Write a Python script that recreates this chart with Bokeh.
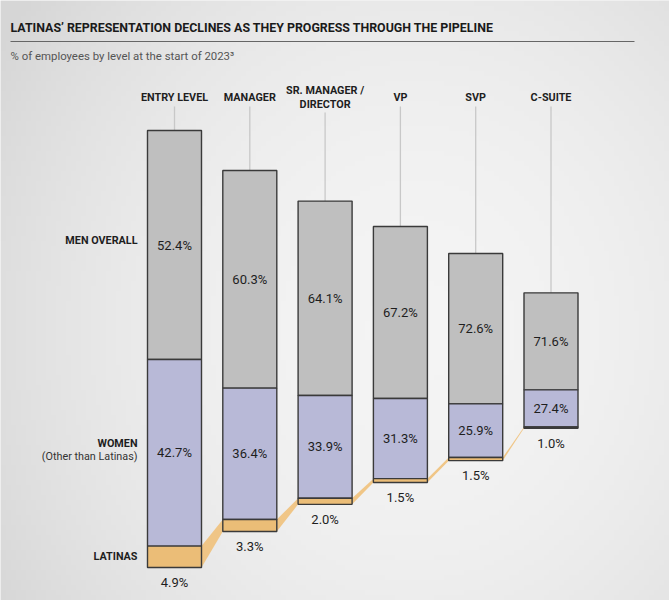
from bokeh.plotting import figure
from bokeh.models import Range1d
from bokeh.core.properties import value
from bokeh.embed import file_html
from bokeh.resources import INLINE
import numpy as np

# ---------------- data ----------------
levels = ["ENTRY LEVEL", "MANAGER", "SR. MANAGER /|DIRECTOR", "VP", "SVP", "C-SUITE"]
men = [52.4, 60.3, 64.1, 67.2, 72.6, 71.6]
women = [42.7, 36.4, 33.9, 31.3, 25.9, 27.4]
latinas = [4.9, 3.3, 2.0, 1.5, 1.5, 1.0]
level_size = [100.0, 82.6, 69.4, 58.6, 47.4, 31.0]   # relative bar height (entry level = 100)
level_base = [7.55, 15.8, 22.0, 27.0, 32.0, 39.4]    # bar baseline in the same units
title = "LATINAS\u2019 REPRESENTATION DECLINES AS THEY PROGRESS THROUGH THE PIPELINE"
subtitle = "% of employees by level at the start of 2023\u00b3"

# ---------------- layout helpers ----------------
W, H = 669, 600
XPX = 75.3          # pixels per level step
X0 = -174.0 / XPX   # left edge of the canvas in x units
YPX = 4.37          # pixels per size unit
BARW = 54.0 / XPX

def sx(px):
    return X0 + px / XPX

def sy(py):
    return (H - py) / YPX

p = figure(width=W, height=H, output_backend="svg", toolbar_location=None,
           x_range=Range1d(X0, X0 + W / XPX), y_range=Range1d(0, H / YPX),
           min_border=0)
p.axis.visible = False
p.grid.visible = False
p.outline_line_color = None
p.background_fill_color = "#ececec"
p.border_fill_color = "#ececec"

# background gradient
nx, ny = 134, 120
gx, gy = np.meshgrid(np.linspace(0, 1, nx), np.linspace(0, 1, ny))
d = np.sqrt(((gx - 0.62) / 0.8) ** 2 + ((gy - 0.45) / 1.0) ** 2)
lum = np.clip(0.958 - 0.14 * d ** 2, 0.84, 0.96)
img = np.zeros((ny, nx), dtype=np.uint32)
v = img.view(dtype=np.uint8).reshape((ny, nx, 4))
c = (lum * 255).astype(np.uint8)
v[:, :, 0] = c
v[:, :, 1] = c
v[:, :, 2] = c
v[:, :, 3] = 255
p.image_rgba(image=[img], x=X0, y=0, dw=W / XPX, dh=H / YPX)

FONT = value("Roboto")
DARK = "#1e1e1e"
EDGE = "#3a3a3a"
C_MEN = "#bfbfbf"
C_WOM = "#b8b9d7"
C_LAT = "#ebbd77"
C_CON = "#efc381"

n = len(levels)
xs = list(range(n))
lat_top = [level_base[i] + level_size[i] * latinas[i] / 100 for i in range(n)]
wom_top = [lat_top[i] + level_size[i] * women[i] / 100 for i in range(n)]
bar_top = [level_base[i] + level_size[i] for i in range(n)]

# connectors between Latina segments
for i in range(n - 1):
    xa = xs[i] + BARW / 2
    xb = xs[i + 1] - BARW / 2
    p.patch([xa, xb, xb, xa], [level_base[i], level_base[i + 1], lat_top[i + 1], lat_top[i]],
            fill_color=C_CON, line_color=None, fill_alpha=0.95)

# guide lines from labels to bar tops
line_start = [sy(106) if "|" not in lab else sy(112) for lab in levels]
p.segment(x0=xs, y0=line_start, x1=xs, y1=bar_top, line_color="#c8c8c8", line_width=1.3)

# stacked bars
p.quad(left=[x - BARW / 2 for x in xs], right=[x + BARW / 2 for x in xs],
       bottom=wom_top, top=bar_top, fill_color=C_MEN, line_color=EDGE, line_width=1.4)
p.quad(left=[x - BARW / 2 for x in xs], right=[x + BARW / 2 for x in xs],
       bottom=lat_top, top=wom_top, fill_color=C_WOM, line_color=EDGE, line_width=1.4)
p.quad(left=[x - BARW / 2 for x in xs], right=[x + BARW / 2 for x in xs],
       bottom=level_base, top=lat_top, fill_color=C_LAT, line_color=EDGE, line_width=1.4)

# value labels
p.text(x=xs, y=[(wom_top[i] + bar_top[i]) / 2 for i in range(n)],
       text=[f"{m:.1f}%" for m in men], text_font=FONT, text_font_size="13px",
       text_color=DARK, text_align="center", text_baseline="middle")
p.text(x=xs, y=[(lat_top[i] + wom_top[i]) / 2 for i in range(n)],
       text=[f"{w:.1f}%" for w in women], text_font=FONT, text_font_size="13px",
       text_color=DARK, text_align="center", text_baseline="middle")
p.text(x=xs, y=[b - 15 / YPX for b in level_base],
       text=[f"{l:.1f}%" for l in latinas], text_font=FONT, text_font_size="13px",
       text_color=DARK, text_align="center", text_baseline="middle")

# level labels
lx, ly, lt = [], [], []
for i, lab in enumerate(levels):
    parts = lab.split("|")
    if len(parts) == 1:
        lx.append(xs[i]); ly.append(sy(97)); lt.append(parts[0])
    else:
        lx += [xs[i], xs[i]]; ly += [sy(90), sy(104)]; lt += parts
p.text(x=lx, y=ly, text=lt, text_font=FONT, text_font_size="10.8px", text_font_style="bold",
       text_color=DARK, text_align="center", text_baseline="middle")

# segment labels on the left
p.text(x=[sx(137)] * 3, y=[sy(240), sy(442.5), sy(556)],
       text=["MEN OVERALL", "WOMEN", "LATINAS"], text_font=FONT, text_font_size="10.8px",
       text_font_style="bold", text_color=DARK, text_align="right", text_baseline="middle")
p.text(x=[sx(137)], y=[sy(455.5)], text=["(Other than Latinas)"], text_font=FONT,
       text_font_size="10.8px", text_color="#333333", text_align="right", text_baseline="middle")

# title, rule and subtitle
p.text(x=[sx(10)], y=[sy(26.5)], text=[title], text_font=FONT, text_font_size="12.4px",
       text_font_style="bold", text_color="#1a1a1a", text_align="left", text_baseline="middle")
p.segment(x0=[sx(10)], y0=[sy(41)], x1=[sx(634)], y1=[sy(41)], line_color="#666666", line_width=1)
p.text(x=[sx(10)], y=[sy(55)], text=[subtitle], text_font=FONT, text_font_size="11.4px",
       text_color="#555555", text_align="left", text_baseline="middle")

open("out.html", "w").write(file_html(p, INLINE))
